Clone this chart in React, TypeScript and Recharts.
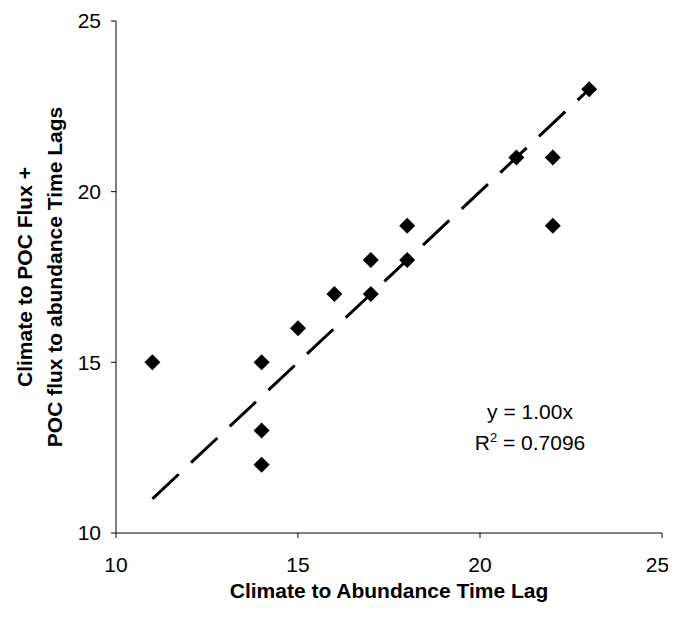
import React from 'react';
import {
  ScatterChart,
  Scatter,
  XAxis,
  YAxis,
  ReferenceLine,
  Label,
  Customized,
} from 'recharts';

// lag pairs (months)
const abundanceLag = [11, 14, 14, 14, 15, 16, 17, 17, 18, 18, 21, 22, 22, 23];
const fluxLag = [15, 15, 13, 12, 16, 17, 18, 17, 19, 18, 21, 21, 19, 23];

const axisTicks = [10, 15, 20, 25];
const trendSlope = 1.0;
const trendRange = [11, 23];
const rSquared = 0.7096;

const points = abundanceLag.map((x, i) => ({ x, y: fluxLag[i] }));
const trendSegment = trendRange.map((x) => ({ x, y: trendSlope * x }));

const FONT = '"Liberation Sans", Arial, sans-serif';
const tickStyle = { fontSize: 21, fill: '#000', fontFamily: FONT };

const Diamond = (props: any) => {
  const { cx, cy } = props;
  const r = 8;
  return (
    <polygon
      points={`${cx},${cy - r} ${cx + r},${cy} ${cx},${cy + r} ${cx - r},${cy}`}
      fill="#000"
    />
  );
};

const YTitle = (props: any) => {
  const vb = props.viewBox || {};
  const cy = vb.y + vb.height / 2;
  const x1 = vb.x + 17;
  const x2 = vb.x + 47;
  const style = { fontSize: 21, fontWeight: 700, fill: '#000', fontFamily: FONT };
  return (
    <g>
      <text x={x1} y={cy} dy="0.35em" textAnchor="middle" transform={`rotate(-90, ${x1}, ${cy})`} style={style}>
        Climate to POC Flux +
      </text>
      <text x={x2} y={cy} dy="0.35em" textAnchor="middle" transform={`rotate(-90, ${x2}, ${cy})`} style={style}>
        POC flux to abundance Time Lags
      </text>
    </g>
  );
};

const Equation = () => {
  const style = { fontSize: 21, fill: '#000', fontFamily: FONT };
  return (
    <g>
      <text x={522} y={411} textAnchor="middle" style={style}>
        {`y = ${trendSlope.toFixed(2)}x`}
      </text>
      <text x={522} y={442} textAnchor="middle" style={style}>
        R<tspan dy={-8} fontSize={13}>2</tspan>
        <tspan dy={8}>{` = ${rSquared.toFixed(4)}`}</tspan>
      </text>
    </g>
  );
};

export default function App() {
  return (
    <div style={{ width: 660, height: 600 }}>
      <style>{'.recharts-surface { overflow: visible; }'}</style>
      <ScatterChart
        width={660}
        height={600}
        margin={{ top: 13, right: 6, bottom: 0, left: 0 }}
        style={{ fontFamily: FONT }}
      >
        <XAxis
          type="number"
          dataKey="x"
          domain={[10, 25]}
          ticks={axisTicks}
          height={75}
          tickSize={5}
          tickMargin={19}
          tick={tickStyle}
          axisLine={{ stroke: '#000' }}
          tickLine={{ stroke: '#000' }}
        >
          <Label
            value="Climate to Abundance Time Lag"
            position="insideBottom"
            offset={10}
            style={{ fontSize: 21, fontWeight: 700, fill: '#000', fontFamily: FONT }}
          />
        </XAxis>
        <YAxis
          type="number"
          dataKey="y"
          domain={[10, 25]}
          ticks={axisTicks}
          width={108}
          tickSize={5}
          tickMargin={10}
          tick={tickStyle}
          axisLine={{ stroke: '#000' }}
          tickLine={{ stroke: '#000' }}
        >
          <Label content={<YTitle />} />
        </YAxis>
        <ReferenceLine
          segment={trendSegment}
          stroke="#000"
          strokeWidth={3}
          strokeDasharray="36 17"
          ifOverflow="visible"
        />
        <Scatter data={points} shape={<Diamond />} isAnimationActive={false} />
        <Customized component={<Equation />} />
      </ScatterChart>
    </div>
  );
}
